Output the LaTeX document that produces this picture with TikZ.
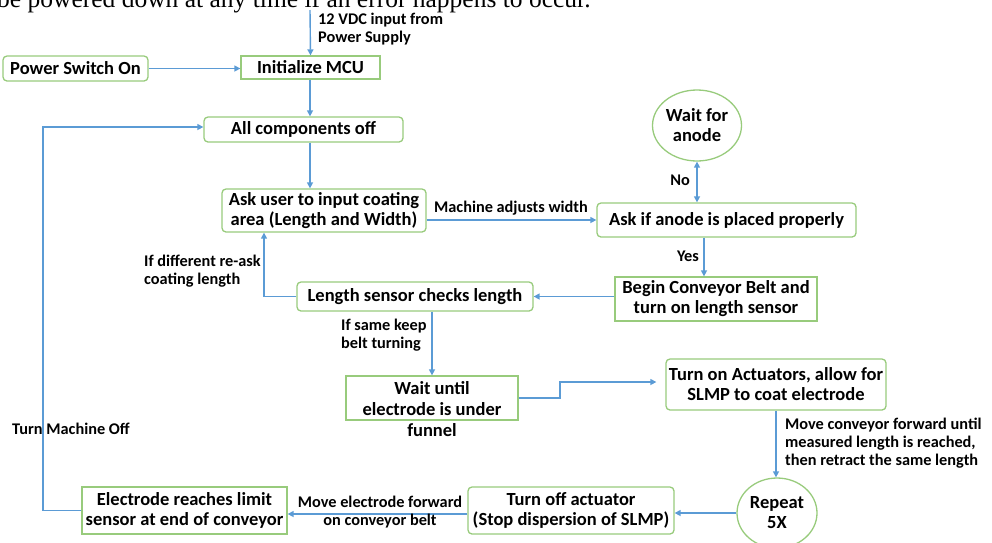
\documentclass[tikz,border=0pt]{standalone}
\usepackage{fontspec}
\setmainfont{Carlito}
\newfontfamily\serifline{Liberation Serif}
\usetikzlibrary{arrows.meta,shapes.geometric,calc}
\definecolor{flowblue}{HTML}{5B9BD5}
\definecolor{flowgreen}{HTML}{98CB7C}
\tikzset{
 base/.style={draw=flowgreen, line width=1.3pt, font=\fontsize{18.5}{20}\selectfont\bfseries, align=center, inner sep=0pt, text=black},
 sbox/.style={base, rectangle},
 rbox/.style={base, rectangle, rounded corners=4pt},
 ebox/.style={base, ellipse},
 lbl/.style={font=\fontsize{16.3}{18}\selectfont\bfseries, inner sep=0pt, text=black},
 arr/.style={draw=flowblue, line width=1.4pt, -{Triangle[length=6pt,width=6pt]}},
 darr/.style={draw=flowblue, line width=1.4pt, {Triangle[length=6pt,width=6pt]}-{Triangle[length=6pt,width=6pt]}},
}
\begin{document}
\begin{tikzpicture}[x=1pt,y=-1pt]
\useasboundingbox (0,0) rectangle (992,542);
\node[anchor=base west, inner sep=0pt, font=\serifline\fontsize{25.5}{28}\selectfont] (head) at (-3,7) {be powered down at any time if an error happens to occur.};

% boxes
\node[rbox, minimum width=145pt, minimum height=25pt] (ps) at (75.5,68.5) {Power Switch On};
\node[sbox, minimum width=139pt, minimum height=23pt] (mcu) at (310.5,67.5) {Initialize MCU};
\node[rbox, minimum width=199pt, minimum height=25pt] (off) at (303.5,129.5) {All components off};
\node[rbox, minimum width=204pt, minimum height=43pt] (ask) at (324,210.5) {Ask user to input coating\\area (Length and Width)};
\node[rbox, minimum width=259pt, minimum height=34pt] (anode) at (726.5,220) {Ask if anode is placed properly};
\node[ebox, minimum width=89pt, minimum height=71pt] (wait) at (697,125.5) {Wait for\\anode};
\node[sbox, minimum width=202pt, minimum height=44pt] (begin) at (716,299) {Begin Conveyor Belt and\\turn on length sensor};
\node[rbox, minimum width=236pt, minimum height=29pt] (len) at (415,296.5) {Length sensor checks length};
\node[sbox, minimum width=172pt, minimum height=44pt] (wu) at (432,398) {};
\node[base, draw=none, font=\fontsize{18.5}{21}\selectfont\bfseries] (wut) at (432,409) {Wait until\\electrode is under\\funnel};
\node[rbox, minimum width=220pt, minimum height=51pt] (act) at (776,384.5) {Turn on Actuators, allow for\\SLMP to coat electrode};
\node[ebox, minimum width=80pt, minimum height=70pt] (rep) at (777,513) {Repeat\\5X};
\node[rbox, minimum width=206pt, minimum height=47pt] (toff) at (571,510.5) {Turn off actuator\\(Stop dispersion of SLMP)};
\node[sbox, minimum width=205pt, minimum height=47pt] (elec) at (184.5,510.5) {Electrode reaches limit\\sensor at end of conveyor};

% connectors
\coordinate (src) at (310,10);
\draw[arr] (src) -- (mcu.north);
\node[lbl, anchor=west, align=left] (l12) at (318,29) {12 VDC input from\\Power Supply};
\draw[arr] (ps.east) -- (ps.east -| mcu.west);
\draw[arr] (310,0 |- mcu.south) -- (310,0 |- off.north);
\draw[arr] (elec.west) -- (43,0 |- elec.west) -- (43,127) -- (off.west |- 43,127);
\node[lbl, anchor=west] (ltm) at (12,429) {Turn Machine Off};
\draw[arr] (310,0 |- off.south) -- (310,0 |- ask.north);
\draw[arr] (ask.east |- anode.west) -- (anode.west);
\node[lbl] (lmw) at (511,208) {Machine adjusts width};
\draw[darr] (wait.south) -- (wait.south |- anode.north);
\node[lbl] (lno) at (680,180) {No};
\draw[arr] (704,0 |- anode.south) -- (704,0 |- begin.north);
\node[lbl] (lyes) at (688,256) {Yes};
\draw[arr] (begin.west |- len.east) -- (len.east);
\draw[arr] (len.west) -- (264,0 |- len.west) -- (264,0 |- ask.south);
\node[lbl, anchor=west, align=left] (ldiff) at (144,271) {If different re-ask\\coating length};
\draw[arr] (432,0 |- len.south) -- (432,0 |- wu.north);
\node[lbl, anchor=west, align=left] (lsame) at (341,335) {If same keep\\belt turning};
\draw[arr, shorten >=9pt] (wu.east) -- (560,0 |- wu.east) -- (560,382) -- (act.west |- 560,382);
\draw[arr] (776,0 |- act.south) -- (776,0 |- rep.north);
\node[lbl, anchor=west, align=left] (lmove) at (785,443) {Move conveyor forward until\\measured length is reached,\\then retract the same length};
\draw[arr] (rep.west) -- (toff.east |- rep.west);
\draw[arr] (toff.west |- 0,514) -- (elec.east |- 0,514);
\node[lbl, align=center] (lfwd) at (380,512) {Move electrode forward\\on conveyor belt};
\end{tikzpicture}
\end{document}
